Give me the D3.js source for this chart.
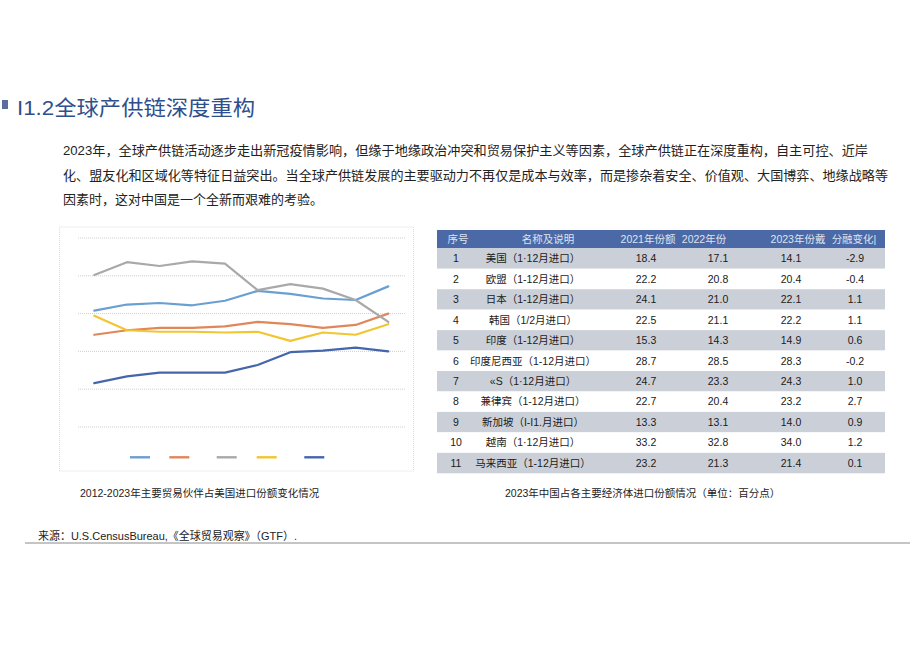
<!DOCTYPE html>
<html><head><meta charset="utf-8">
<script src="https://cdn.jsdelivr.net/npm/d3@7/dist/d3.min.js"></script>
<style>
html,body{margin:0;padding:0;background:#fff;}
svg{display:block;font-family:"Liberation Sans","Noto Sans CJK SC",sans-serif;}
</style></head>
<body>
<svg id="c" width="920" height="651"></svg>
<script>
// ---------- data ----------
const years = [2014,2015,2016,2017,2018,2019,2020,2021,2022,2023];
const seriesA = [15.4,16.2,16.4,16.1,16.7,18.0,17.6,17.0,16.8,18.6]; // light blue
const seriesB = [12.2,12.8,13.1,13.1,13.3,13.9,13.6,13.1,13.5,15.0]; // orange
const seriesC = [20.1,21.8,21.3,21.9,21.6,18.1,18.9,18.3,16.8,13.9]; // gray
const seriesD = [14.7,12.8,12.6,12.6,12.5,12.6,11.4,12.5,12.2,13.6]; // yellow
const seriesE = [5.8,6.7,7.2,7.2,7.2,8.2,9.9,10.1,10.5,10.0];        // dark blue
const yTicks = [0,5,10,15,20,25];

const tableHeader = ["序号","名称及说明","2021年份额","2022年份","2023年份戴","分融变化|"];
const rowNo   = ["1","2","3","4","5","6","7","8","9","10","11"];
const rowName = ["美国（1·12月进口）","欧盟（1-12月进口）","日本（1-12月进口）","韩国（1/2月进口）","印度（1-12月进口）",
                 "印度尼西亚（1-12月进口）","«S（1·12月进口）","兼律宾（1-12月进口）","新加坡（I-I1.月进口）","越南（1·12月进口）","马来西亚（1-12月进口）"];
const v2021 = ["18.4","22.2","24.1","22.5","15.3","28.7","24.7","22.7","13.3","33.2","23.2"];
const v2022 = ["17.1","20.8","21.0","21.1","14.3","28.5","23.3","20.4","13.1","32.8","21.3"];
const v2023 = ["14.1","20.4","22.1","22.2","14.9","28.3","24.3","23.2","14.0","34.0","21.4"];
const vChg  = ["-2.9","-0.4","1.1","1.1","0.6","-0.2","1.0","2.7","0.9","1.2","0.1"];

const titleText = "I1.2全球产供链深度重构";
const paraLines = [
 "2023年，全球产供链活动逐步走出新冠疫情影响，但缘于地缘政治冲突和贸易保护主义等因素，全球产供链正在深度重构，自主可控、近岸",
 "化、盟友化和区域化等特征日益突出。当全球产供链发展的主要驱动力不再仅是成本与效率，而是掺杂着安全、价值观、大国博弈、地缘战略等",
 "因素时，这对中国是一个全新而艰难的考验。"
];
const captionLeft = "2012-2023年主要贸易伙伴占美国进口份额变化情况";
const captionRight = "2023年中国占各主要经济体进口份额情况（单位：百分点）";
const sourceText = "来源：U.S.CensusBureau,《全球贸易观察》（GTF）.";

// ---------- drawing ----------
const svg = d3.select("#c");
const colors = ["#6a9fd2","#e0875a","#a9a9a9","#f2c531","#4566ac"];
const allSeries = [seriesA,seriesB,seriesC,seriesD,seriesE];

// title
svg.append("rect").attr("x",2).attr("y",100).attr("width",6).attr("height",9).attr("fill","#5b6e9e");
svg.append("text").attr("x",17).attr("y",114.5).attr("font-size",21).attr("fill","#2e4f8c")
  .attr("textLength",238).attr("lengthAdjust","spacingAndGlyphs").text(titleText);

// paragraph
const paraY = [154.5,180,203.5];
const paraLen = [805,825,null];
paraLines.forEach((t,i)=>{
  const tx = svg.append("text").attr("x",63).attr("y",paraY[i]).attr("font-size",13).attr("fill","#222").text(t);
  if(paraLen[i]) tx.attr("textLength",paraLen[i]).attr("lengthAdjust","spacingAndGlyphs");
});

// ---- line chart ----
svg.append("rect").attr("x",59.5).attr("y",227).attr("width",354).attr("height",244)
  .attr("fill","none").attr("stroke","#dcdcdc").attr("stroke-dasharray","1,1");
const x = d3.scalePoint().domain(years).range([94.3,388.3]);
const y = d3.scaleLinear().domain([0,25]).range([427,238]);
const g = svg.append("g");
g.selectAll("line.grid").data(yTicks).join("line").attr("class","grid")
  .attr("x1",78).attr("x2",405).attr("y1",d=>y(d)).attr("y2",d=>y(d))
  .attr("stroke","#cfcfcf").attr("stroke-width",1).attr("stroke-dasharray","1,1");
const line = d3.line().x((d,i)=>x(years[i])).y(d=>y(d));
allSeries.forEach((s,k)=>{
  g.append("path").attr("d",line(s)).attr("fill","none").attr("stroke",colors[k])
   .attr("stroke-width",2.2).attr("stroke-linejoin","round").attr("stroke-linecap","round");
});
// legend (swatches only)
const legX = [130,169.3,216.7,256.7,304.3];
colors.forEach((c,k)=>{
  g.append("line").attr("x1",legX[k]).attr("x2",legX[k]+20).attr("y1",457.3).attr("y2",457.3)
   .attr("stroke",c).attr("stroke-width",2.4);
});

// ---- table ----
const tx0 = 437, tx1 = 885;
const colX = [456,533,646,718,791,855];
const headX = [458,548,648,704,798,854];
svg.append("rect").attr("x",tx0).attr("y",230).attr("width",tx1-tx0).attr("height",18.3).attr("fill","#4b69a7");
tableHeader.forEach((h,i)=>{
  svg.append("text").attr("x",headX[i]).attr("y",243).attr("text-anchor","middle")
    .attr("font-size",10.5).attr("fill","#dfe5f0").text(h);
});
const ry = d3.scaleBand().domain(rowNo).range([248.3,473.3]);
const rows = svg.append("g").selectAll("g").data(rowNo).join("g")
  .attr("transform",d=>`translate(0,${ry(d)})`);
rows.append("rect").attr("x",tx0).attr("width",tx1-tx0).attr("height",ry.bandwidth())
  .attr("fill",(d,i)=>i%2===0?"#cbd0d8":"#ffffff");
const cols = [rowNo,rowName,v2021,v2022,v2023,vChg];
cols.forEach((arr,c)=>{
  rows.append("text").attr("x",colX[c]).attr("y",ry.bandwidth()/2+3.8).attr("text-anchor","middle")
    .attr("font-size",10.5).attr("fill","#1a1a1a").text((d,i)=>arr[i]);
});

// captions
svg.append("text").attr("x",80).attr("y",497).attr("font-size",10.5).attr("fill","#222").text(captionLeft);
svg.append("text").attr("x",505).attr("y",497).attr("font-size",10.5).attr("fill","#222").text(captionRight);

// source
svg.append("text").attr("x",38).attr("y",539.5).attr("font-size",11).attr("fill","#222")
  .attr("textLength",259).attr("lengthAdjust","spacingAndGlyphs").text(sourceText);
svg.append("line").attr("x1",25).attr("x2",910).attr("y1",543).attr("y2",543).attr("stroke","#8a8a8a").attr("stroke-width",1);
</script>
</body></html>
